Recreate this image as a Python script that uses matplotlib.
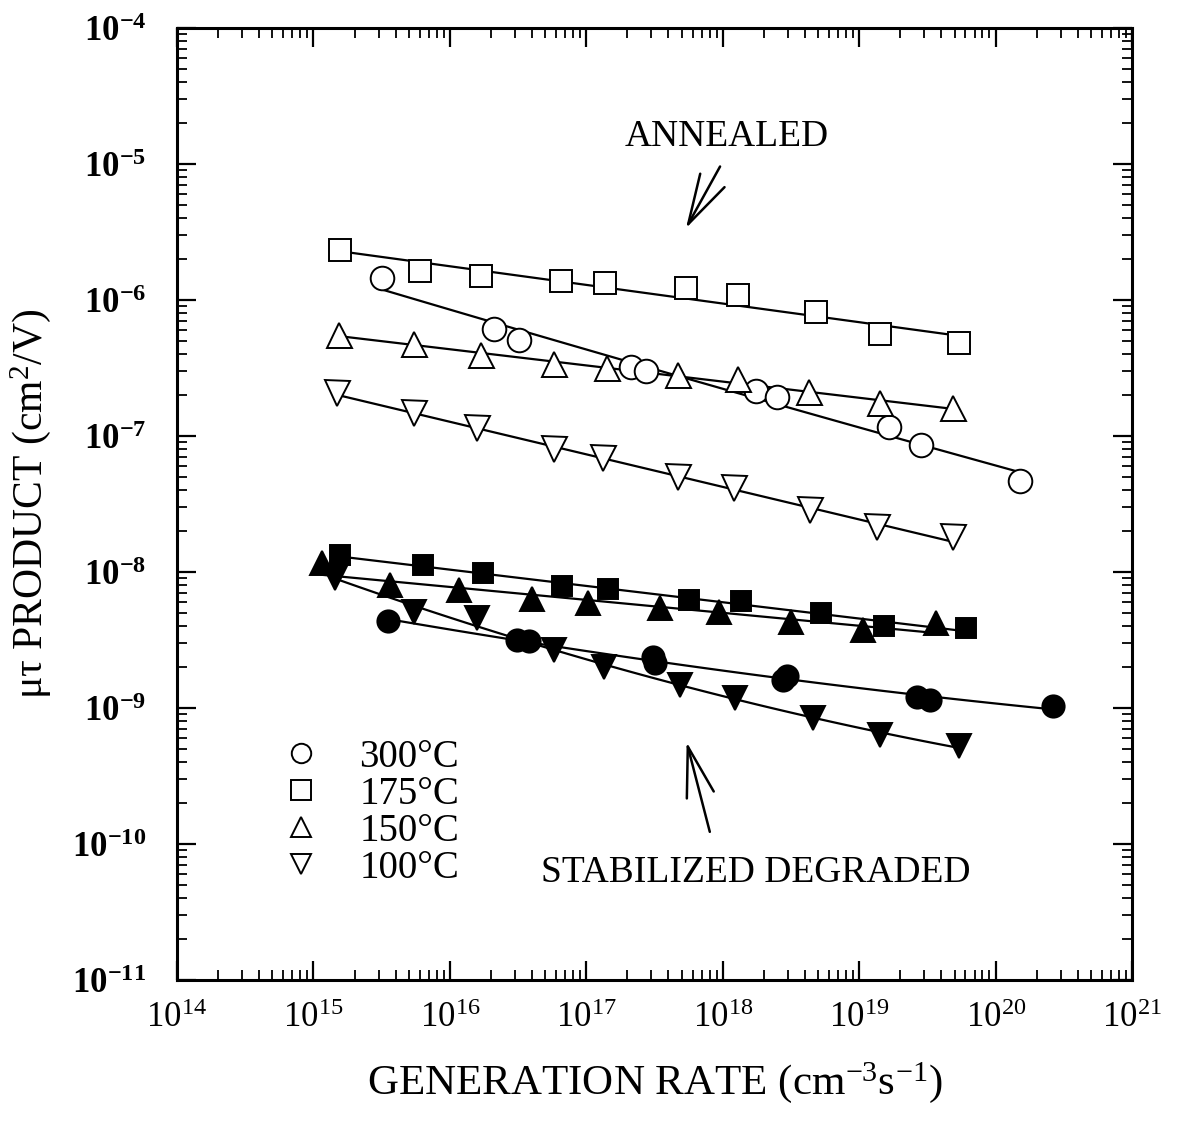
import numpy as np
import matplotlib
matplotlib.use("Agg")
import matplotlib.pyplot as plt
from matplotlib.ticker import LogLocator, NullFormatter, FixedLocator

plt.rcParams['font.family'] = ['Liberation Serif', 'DejaVu Serif']
plt.rcParams['mathtext.fontset'] = 'custom'
plt.rcParams['mathtext.rm'] = 'Liberation Serif'
plt.rcParams['mathtext.it'] = 'Liberation Serif:italic'
plt.rcParams['mathtext.bf'] = 'Liberation Serif:bold'

# ---- data (log10 of generation rate, mu-tau product) ----
# Annealed (open symbols)
x_300_ann = [15.50, 16.32, 16.51, 17.33, 17.44, 18.245, 18.40, 19.22, 19.45, 20.18]
y_300_ann = [1.45e-6, 6.1e-7, 5.1e-7, 3.2e-7, 3.0e-7, 2.14e-7, 1.94e-7, 1.16e-7, 8.6e-8, 4.7e-8]
x_175_ann = [15.195, 15.78, 16.23, 16.815, 17.14, 17.73, 18.11, 18.68, 19.15, 19.73]
y_175_ann = [2.33e-6, 1.63e-6, 1.5e-6, 1.38e-6, 1.33e-6, 1.23e-6, 1.09e-6, 8.2e-7, 5.6e-7, 4.8e-7]
x_150_ann = [15.19, 15.74, 16.23, 16.76, 17.15, 17.67, 18.11, 18.63, 19.15, 19.69]
y_150_ann = [5.5e-7, 4.75e-7, 3.94e-7, 3.4e-7, 3.16e-7, 2.8e-7, 2.63e-7, 2.1e-7, 1.75e-7, 1.6e-7]
x_100_ann = [15.17, 15.74, 16.20, 16.76, 17.12, 17.67, 18.08, 18.64, 19.13, 19.69]
y_100_ann = [2.07e-7, 1.48e-7, 1.15e-7, 8.0e-8, 6.9e-8, 5.0e-8, 4.15e-8, 2.86e-8, 2.14e-8, 1.81e-8]

# Stabilized degraded (filled symbols)
x_300_deg = [15.55, 16.49, 16.58, 17.49, 17.50, 18.44, 18.47, 19.42, 19.52, 20.42]
y_300_deg = [4.4e-9, 3.16e-9, 3.1e-9, 2.37e-9, 2.14e-9, 1.6e-9, 1.72e-9, 1.2e-9, 1.15e-9, 1.03e-9]
x_175_deg = [15.195, 15.80, 16.24, 16.82, 17.16, 17.75, 18.13, 18.72, 19.18, 19.78]
y_175_deg = [1.33e-8, 1.12e-8, 9.8e-9, 7.9e-9, 7.5e-9, 6.2e-9, 6.1e-9, 5.0e-9, 4.0e-9, 3.9e-9]
x_150_deg = [15.06, 15.56, 16.07, 16.60, 17.01, 17.54, 17.97, 18.50, 19.03, 19.56]
y_150_deg = [1.16e-8, 8.0e-9, 7.4e-9, 6.3e-9, 5.9e-9, 5.4e-9, 5.1e-9, 4.3e-9, 3.75e-9, 4.2e-9]
x_100_deg = [15.16, 15.74, 16.20, 16.76, 17.13, 17.69, 18.09, 18.66, 19.15, 19.73]
y_100_deg = [9.0e-9, 5.1e-9, 4.6e-9, 2.67e-9, 2.0e-9, 1.48e-9, 1.19e-9, 8.4e-10, 6.3e-10, 5.3e-10]

legend_labels = ['300°C', '175°C', '150°C', '100°C']
x_ticks = [1e14, 1e15, 1e16, 1e17, 1e18, 1e19, 1e20, 1e21]
y_ticks = [1e-11, 1e-10, 1e-9, 1e-8, 1e-7, 1e-6, 1e-5, 1e-4]

fig = plt.figure(figsize=(11.83, 11.23), dpi=100)
ax = fig.add_axes([0.1496, 0.1273, 0.8074, 0.8477])
ax.set_xscale('log')
ax.set_yscale('log')
ax.set_xlim(1e14, 1e21)
ax.set_ylim(1e-11, 1e-4)

series = [
    (x_300_ann, y_300_ann, 'o', 'white', 17, 2),
    (x_175_ann, y_175_ann, 's', 'white', 15.5, 1),
    (x_150_ann, y_150_ann, '^', 'white', 18, 1),
    (x_100_ann, y_100_ann, 'v', 'white', 18, 1),
    (x_300_deg, y_300_deg, 'o', 'black', 16, 2),
    (x_175_deg, y_175_deg, 's', 'black', 15, 1),
    (x_150_deg, y_150_deg, '^', 'black', 17, 1),
    (x_100_deg, y_100_deg, 'v', 'black', 17, 2),
]

for xs, ys, m, fc, ms, deg in series:
    lx = np.array(xs)
    ly = np.log10(np.array(ys))
    coef = np.polyfit(lx, ly, deg)
    xf = np.linspace(lx.min(), lx.max(), 100)
    ax.plot(10 ** xf, 10 ** np.polyval(coef, xf), color='black', lw=1.6, zorder=2)
    ax.plot(10 ** lx, ys, linestyle='none', marker=m, markersize=ms,
            markerfacecolor=fc, markeredgecolor='black', markeredgewidth=1.4, zorder=3)

# legend
handles = []
for m in ['o', 's', '^', 'v']:
    h, = ax.plot([], [], linestyle='none', marker=m, markersize=14,
                 markerfacecolor='white', markeredgecolor='black', markeredgewidth=1.4)
    handles.append(h)
leg = ax.legend(handles, legend_labels, loc='upper left', bbox_to_anchor=(0.089, 0.274),
                frameon=False, fontsize=28, handlelength=1.0, handletextpad=1.0,
                labelspacing=0.0, borderpad=0)

# annotations
ax.text(10 ** 18.03, 10 ** -4.8, 'ANNEALED', fontsize=27, ha='center', va='center')
ax.annotate('', xy=(10 ** 17.72, 10 ** -5.49), xytext=(10 ** 17.99, 10 ** -5.0),
            arrowprops=dict(arrowstyle='->,head_length=0.9,head_width=0.25', lw=1.8,
                            color='black', mutation_scale=40))
ax.text(10 ** 18.24, 10 ** -10.21, 'STABILIZED DEGRADED', fontsize=27,
        ha='center', va='center')
ax.annotate('', xy=(10 ** 17.73, 10 ** -9.23), xytext=(10 ** 17.91, 10 ** -9.93),
            arrowprops=dict(arrowstyle='->,head_length=0.9,head_width=0.25', lw=1.8,
                            color='black', mutation_scale=40))

# axes styling
for sp in ax.spines.values():
    sp.set_linewidth(2.2)
ax.xaxis.set_major_locator(FixedLocator(x_ticks))
ax.yaxis.set_major_locator(FixedLocator(y_ticks))
ax.xaxis.set_minor_locator(LogLocator(base=10, subs=np.arange(2, 10), numticks=20))
ax.yaxis.set_minor_locator(LogLocator(base=10, subs=np.arange(2, 10), numticks=20))
ax.xaxis.set_minor_formatter(NullFormatter())
ax.yaxis.set_minor_formatter(NullFormatter())
ax.set_xticklabels([r'$10^{%d}$' % int(np.log10(v)) for v in x_ticks])
ax.set_yticklabels([r'$\mathbf{10^{%d}}$' % int(np.log10(v)) for v in y_ticks])
ax.tick_params(which='major', direction='in', length=14, width=1.6, top=True, right=True,
               labelsize=25)
ax.tick_params(which='minor', direction='in', length=7, width=1.3, top=True, right=True)
ax.tick_params(axis='x', which='major', pad=16)
ax.tick_params(axis='y', which='major', pad=22)

ax.set_xlabel(r'GENERATION RATE (cm$^{-3}$s$^{-1}$)', fontsize=31, labelpad=18)
ax.set_ylabel(r'μτ PRODUCT (cm$^{2}$/V)', fontsize=30, labelpad=14)

fig.savefig('out.png', dpi=100)
